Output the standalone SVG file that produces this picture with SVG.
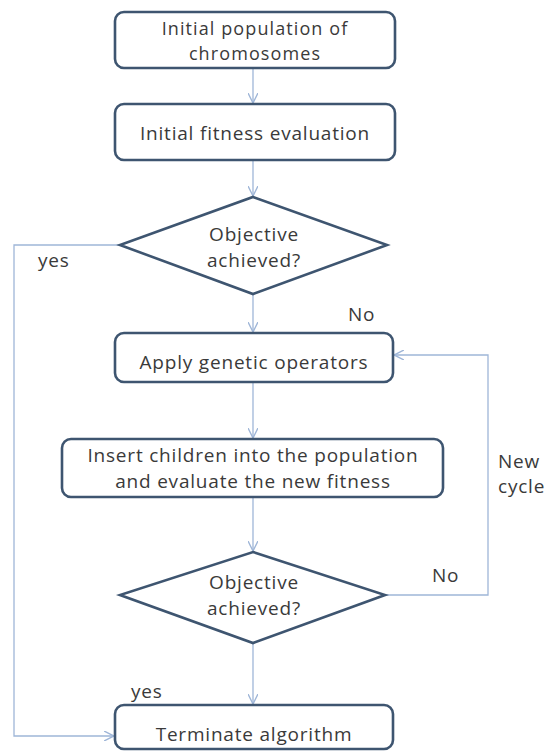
<svg xmlns="http://www.w3.org/2000/svg" width="546" height="751" viewBox="0 0 546 751">
<defs>
<style>
.node{fill:#ffffff;stroke:#3e5570;stroke-width:2.6}
.t{font-family:"Open Sans","Liberation Sans",sans-serif;font-size:19px;letter-spacing:0.8px;fill:#3a3a3a;text-anchor:middle}
.s{font-size:18px;letter-spacing:1.1px}
.lbl{font-family:"Open Sans","Liberation Sans",sans-serif;font-size:19px;letter-spacing:0.8px;fill:#3a3a3a}
.c{fill:none;stroke:#9fb6d8;stroke-width:1.3}
</style>
<marker id="ah" viewBox="0 0 10 10" refX="10" refY="5" markerWidth="10" markerHeight="10" markerUnits="userSpaceOnUse" orient="auto">
<path d="M0,0 L10,5 L0,10" fill="none" stroke="#9fb6d8" stroke-width="1.4"/>
</marker>
</defs>
<rect width="546" height="751" fill="#ffffff"/>
<g id="connectors">
<line class="c" x1="253" y1="68" x2="253" y2="103" marker-end="url(#ah)"/>
<line class="c" x1="253" y1="160" x2="253" y2="196" marker-end="url(#ah)"/>
<line class="c" x1="253" y1="294" x2="253" y2="332" marker-end="url(#ah)"/>
<line class="c" x1="253" y1="382" x2="253" y2="438" marker-end="url(#ah)"/>
<line class="c" x1="253" y1="497" x2="253" y2="551" marker-end="url(#ah)"/>
<line class="c" x1="253" y1="643" x2="253" y2="704" marker-end="url(#ah)"/>
<polyline class="c" points="120,245 14,245 14,736 114,736" marker-end="url(#ah)"/>
<polyline class="c" points="385,595 488,595 488,355 394,355" marker-end="url(#ah)"/>
</g>
<g id="n1">
<rect class="node" x="115" y="12" width="280" height="56" rx="9"/>
<text class="t s" x="255" y="35">Initial population  of</text>
<text class="t s" x="255" y="60">chromosomes</text>
</g>
<g id="n2">
<rect class="node" x="115" y="104" width="280" height="56" rx="9"/>
<text class="t" x="255" y="140">Initial fitness evaluation</text>
</g>
<g id="d1">
<polygon class="node" points="253,197 387,245 253,294 120,245"/>
<text class="t" x="254" y="241">Objective</text>
<text class="t" x="254" y="267">achieved?</text>
</g>
<g id="n3">
<rect class="node" x="115" y="333" width="278" height="49" rx="9"/>
<text class="t" x="254" y="369">Apply genetic operators</text>
</g>
<g id="n4">
<rect class="node" x="62" y="439" width="381" height="58" rx="9"/>
<text class="t" x="253" y="462">Insert children into the population</text>
<text class="t" x="253" y="488">and evaluate the new fitness</text>
</g>
<g id="d2">
<polygon class="node" points="253,552 385,595 253,643 120,595"/>
<text class="t" x="254" y="589">Objective</text>
<text class="t" x="254" y="615">achieved?</text>
</g>
<g id="n5">
<rect class="node" x="115" y="705" width="278" height="44" rx="9"/>
<text class="t" x="254" y="741">Terminate algorithm</text>
</g>
<g id="labels">
<text class="lbl" x="38" y="267">yes</text>
<text class="lbl" x="348" y="321">No</text>
<text class="lbl s" x="498" y="468">New</text>
<text class="lbl s" x="498" y="493">cycle</text>
<text class="lbl" x="432" y="582">No</text>
<text class="lbl" x="131" y="698">yes</text>
</g>
</svg>
